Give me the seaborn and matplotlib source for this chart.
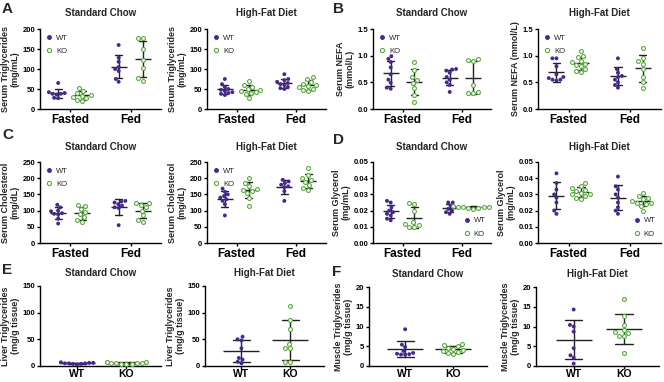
import numpy as np
import pandas as pd
import matplotlib
matplotlib.use("Agg")
import matplotlib.pyplot as plt
import seaborn as sns
from matplotlib.lines import Line2D
from matplotlib.colors import to_rgb

sns.set_theme(style="ticks")
plt.rcParams['font.family'] = ['Liberation Sans', 'DejaVu Sans']
plt.rcParams['font.weight'] = 'bold'
plt.rcParams['axes.titleweight'] = 'bold'
plt.rcParams['axes.labelweight'] = 'bold'
plt.rcParams['axes.edgecolor'] = 'black'
plt.rcParams['axes.linewidth'] = 1.0
plt.rcParams['xtick.color'] = 'black'
plt.rcParams['ytick.color'] = 'black'

WT_COL = "#45288f"
KO_COL = "#5aab3e"
BAR_COL = "#222222"
conds = ["Fasted", "Fed"]
genos = ["WT", "KO"]

# A - serum triglycerides (mg/mL)
a_chow_wt_fasted = [65, 42, 38, 36, 40, 27, 28, 38]
a_chow_ko_fasted = [52, 45, 40, 33, 30, 28, 22, 20, 35]
a_chow_wt_fed = [160, 128, 118, 105, 100, 95, 75, 68]
a_chow_ko_fed = [177, 177, 150, 123, 102, 77, 71]
a_hfd_wt_fasted = [75, 62, 55, 50, 48, 45, 42, 40, 38, 35]
a_hfd_ko_fasted = [70, 60, 55, 50, 48, 45, 42, 40, 38, 28]
a_hfd_wt_fed = [87, 75, 72, 68, 65, 62, 60, 55, 52, 50]
a_hfd_ko_fed = [80, 75, 68, 62, 60, 58, 55, 50, 48, 45]

# B - serum NEFA (mmol/L)
b_chow_wt_fasted = [0.99, 0.94, 0.88, 0.78, 0.65, 0.55, 0.49, 0.38, 0.40]
b_chow_ko_fasted = [0.88, 0.74, 0.60, 0.55, 0.49, 0.40, 0.27, 0.14]
b_chow_wt_fed = [0.75, 0.74, 0.72, 0.68, 0.60, 0.55, 0.50, 0.45, 0.32]
b_chow_ko_fed = [0.93, 0.92, 0.90, 0.45, 0.32, 0.30, 0.30]
b_hfd_wt_fasted = [0.95, 0.95, 0.80, 0.65, 0.60, 0.58, 0.55, 0.55, 0.53]
b_hfd_ko_fasted = [1.08, 1.00, 0.98, 0.90, 0.88, 0.85, 0.82, 0.80, 0.75, 0.70, 0.72]
b_hfd_wt_fed = [0.95, 0.75, 0.68, 0.62, 0.60, 0.55, 0.50, 0.45, 0.40]
b_hfd_ko_fed = [1.15, 0.95, 0.90, 0.85, 0.75, 0.60, 0.50, 0.40]

# C - serum cholesterol (mg/dL)
c_chow_wt_fasted = [118, 110, 100, 98, 92, 90, 88, 75, 60]
c_chow_ko_fasted = [118, 115, 105, 95, 90, 80, 70, 65]
c_chow_wt_fed = [130, 128, 125, 120, 115, 110, 108, 55]
c_chow_ko_fed = [125, 122, 118, 110, 100, 85, 70, 65]
c_hfd_wt_fasted = [168, 158, 150, 145, 140, 135, 130, 120, 85]
c_hfd_ko_fasted = [200, 185, 175, 168, 165, 160, 155, 140, 115]
c_hfd_wt_fed = [195, 190, 185, 180, 175, 172, 160, 130]
c_hfd_ko_fed = [232, 210, 200, 195, 188, 180, 170, 165]

# D - serum glycerol (mg/mL)
d_chow_wt_fasted = [0.026, 0.025, 0.022, 0.020, 0.019, 0.018, 0.017, 0.015, 0.014]
d_chow_ko_fasted = [0.025, 0.024, 0.020, 0.013, 0.012, 0.011, 0.010, 0.010]
d_chow_wt_fed = [0.025, 0.025, 0.023, 0.022, 0.021, 0.020, 0.019, 0.018]
d_chow_ko_fed = [0.023, 0.0225, 0.022, 0.022, 0.022, 0.0215, 0.021, 0.0215]
d_hfd_wt_fasted = [0.043, 0.037, 0.033, 0.030, 0.028, 0.025, 0.020, 0.018]
d_hfd_ko_fasted = [0.037, 0.035, 0.034, 0.033, 0.032, 0.031, 0.030, 0.030, 0.029, 0.028, 0.027]
d_hfd_wt_fed = [0.041, 0.035, 0.033, 0.030, 0.028, 0.022, 0.020, 0.018, 0.025]
d_hfd_ko_fed = [0.031, 0.029, 0.028, 0.027, 0.026, 0.025, 0.025, 0.024, 0.023, 0.020]

# E - liver triglycerides (mg/g tissue)
e_chow_wt = [7, 6, 5, 5, 4, 4, 3, 5, 6]
e_chow_ko = [8, 7, 6, 5, 4, 4, 3, 5, 6, 7]
e_hfd_wt = [55, 50, 48, 33, 15, 12, 8, 5]
e_hfd_ko = [113, 87, 70, 42, 34, 33, 8, 8]

# F - muscle triglycerides (mg/g tissue)
f_chow_wt = [9.3, 5.4, 4.8, 3.8, 3.3, 3.0, 2.9, 2.9, 3.1]
f_chow_ko = [5.5, 5.2, 5.0, 4.6, 4.3, 4.0, 3.8, 3.5, 3.0, 3.2]
f_hfd_wt = [14.3, 10.4, 10.0, 8.7, 4.5, 2.7, 2.1, 0.6]
f_hfd_ko = [16.9, 12.7, 10.3, 9.0, 8.6, 8.3, 7.7, 7.5, 3.3]

pal = {"WT": WT_COL, "KO": KO_COL}
bar_pal = {"WT": BAR_COL, "KO": BAR_COL}

fig = plt.figure(figsize=(6.64, 3.82), dpi=100)


def make_ax(x, top, w, bottom):
    return fig.add_axes([x / 664, 1 - bottom / 382, w / 664, (bottom - top) / 382])


def open_ko(ax):
    for coll in ax.collections:
        fc = coll.get_facecolor()
        if len(fc) and np.allclose(fc[0][:3], to_rgb(KO_COL), atol=0.03):
            coll.set_facecolor("white")
            coll.set_edgecolor(KO_COL)
            coll.set_linewidth(0.8)


def style(ax, title, ylabel, yticks, fmt, title_pad, xsize=8.5, xpad=1.5):
    ax.set_ylim(yticks[0], yticks[-1])
    ax.set_yticks(yticks)
    ax.set_yticklabels([fmt.format(t) for t in yticks])
    ax.set_xlabel("")
    ax.set_ylabel(ylabel, fontsize=6.5, labelpad=2, linespacing=1.1)
    ax.set_title(title, fontsize=7, pad=title_pad)
    ax.tick_params(axis="y", labelsize=5.5, length=2.5, width=1, pad=1)
    ax.tick_params(axis="x", labelsize=xsize, length=2, width=1, pad=xpad)
    sns.despine(ax=ax)


def add_legend(ax, loc):
    handles = [
        Line2D([], [], marker="o", ls="none", mfc=WT_COL, mec=WT_COL, ms=2.5),
        Line2D([], [], marker="o", ls="none", mfc="white", mec=KO_COL, ms=3, mew=0.8),
    ]
    ax.legend(handles, genos, loc=loc, frameon=False, prop={"size": 5.5, "weight": "normal"},
              handletextpad=0.4, labelspacing=0.8, borderaxespad=0.3, handlelength=1)


def fasting_panel(ax, groups, title, ylabel, yticks, fmt, legend_loc):
    rows = []
    for (cond, geno), vals in groups.items():
        rows += [{"cond": cond, "geno": geno, "val": v} for v in vals]
    df = pd.DataFrame(rows)
    sns.swarmplot(data=df, x="cond", y="val", hue="geno", order=conds, hue_order=genos,
                  dodge=True, palette=pal, size=2.8, ax=ax, legend=False)
    open_ko(ax)
    sns.pointplot(data=df, x="cond", y="val", hue="geno", order=conds, hue_order=genos,
                  dodge=0.4, errorbar="sd", markers="_", linestyle="none", capsize=0.12,
                  palette=bar_pal, markersize=11, markeredgewidth=1,
                  err_kws={"linewidth": 1}, legend=False, ax=ax)
    ax.set_xlim(-0.5, 1.5)
    style(ax, title, ylabel, yticks, fmt, 9)
    add_legend(ax, legend_loc)


def tissue_panel(ax, groups, title, ylabel, yticks, fmt):
    rows = []
    for geno, vals in groups.items():
        rows += [{"geno": geno, "val": v} for v in vals]
    df = pd.DataFrame(rows)
    sns.swarmplot(data=df, x="geno", y="val", hue="geno", order=genos, hue_order=genos,
                  palette=pal, size=2.8, ax=ax, legend=False)
    open_ko(ax)
    sns.pointplot(data=df, x="geno", y="val", order=genos, errorbar="sd", markers="_",
                  linestyle="none", capsize=0.35, color=BAR_COL, markersize=26,
                  markeredgewidth=1, err_kws={"linewidth": 1}, ax=ax)
    ax.set_xlim(-0.75, 1.7)
    style(ax, title, ylabel, yticks, fmt, 7, xsize=7.5, xpad=0.5)


tg_ticks = [0, 50, 100, 150, 200]
nefa_ticks = [0.0, 0.5, 1.0, 1.5]
chol_ticks = [0, 50, 100, 150, 200, 250]
gly_ticks = [0.0, 0.01, 0.02, 0.03, 0.04, 0.05]

fasting_panel(make_ax(40, 29, 121, 109),
              {("Fasted", "WT"): a_chow_wt_fasted, ("Fasted", "KO"): a_chow_ko_fasted,
               ("Fed", "WT"): a_chow_wt_fed, ("Fed", "KO"): a_chow_ko_fed},
              "Standard Chow", "Serum Triglycerides\n(mg/mL)", tg_ticks, "{:.0f}", "upper left")
fasting_panel(make_ax(207, 29, 119, 109),
              {("Fasted", "WT"): a_hfd_wt_fasted, ("Fasted", "KO"): a_hfd_ko_fasted,
               ("Fed", "WT"): a_hfd_wt_fed, ("Fed", "KO"): a_hfd_ko_fed},
              "High-Fat Diet", "Serum Triglycerides\n(mg/mL)", tg_ticks, "{:.0f}", "upper left")
fasting_panel(make_ax(373, 29, 118, 109),
              {("Fasted", "WT"): b_chow_wt_fasted, ("Fasted", "KO"): b_chow_ko_fasted,
               ("Fed", "WT"): b_chow_wt_fed, ("Fed", "KO"): b_chow_ko_fed},
              "Standard Chow", "Serum NEFA\n(mmol/L)", nefa_ticks, "{:.1f}", "upper left")
fasting_panel(make_ax(538, 29, 123, 109),
              {("Fasted", "WT"): b_hfd_wt_fasted, ("Fasted", "KO"): b_hfd_ko_fasted,
               ("Fed", "WT"): b_hfd_wt_fed, ("Fed", "KO"): b_hfd_ko_fed},
              "High-Fat Diet", "Serum NEFA (mmol/L)", nefa_ticks, "{:.1f}", "upper left")

fasting_panel(make_ax(40, 162, 121, 243),
              {("Fasted", "WT"): c_chow_wt_fasted, ("Fasted", "KO"): c_chow_ko_fasted,
               ("Fed", "WT"): c_chow_wt_fed, ("Fed", "KO"): c_chow_ko_fed},
              "Standard Chow", "Serum Cholesterol\n(mg/dL)", chol_ticks, "{:.0f}", "upper left")
fasting_panel(make_ax(207, 162, 119, 243),
              {("Fasted", "WT"): c_hfd_wt_fasted, ("Fasted", "KO"): c_hfd_ko_fasted,
               ("Fed", "WT"): c_hfd_wt_fed, ("Fed", "KO"): c_hfd_ko_fed},
              "High-Fat Diet", "Serum Cholesterol\n(mg/dL)", chol_ticks, "{:.0f}", "upper left")
fasting_panel(make_ax(373, 162, 118, 243),
              {("Fasted", "WT"): d_chow_wt_fasted, ("Fasted", "KO"): d_chow_ko_fasted,
               ("Fed", "WT"): d_chow_wt_fed, ("Fed", "KO"): d_chow_ko_fed},
              "Standard Chow", "Serum Glycerol\n(mg/mL)", gly_ticks, "{:.2f}", "lower right")
fasting_panel(make_ax(538, 162, 123, 243),
              {("Fasted", "WT"): d_hfd_wt_fasted, ("Fasted", "KO"): d_hfd_ko_fasted,
               ("Fed", "WT"): d_hfd_wt_fed, ("Fed", "KO"): d_hfd_ko_fed},
              "High-Fat Diet", "Serum Glycerol\n(mg/mL)", gly_ticks, "{:.2f}", "lower right")

tissue_panel(make_ax(40, 286, 121, 366), {"WT": e_chow_wt, "KO": e_chow_ko},
             "Standard Chow", "Liver Triglycerides\n(mg/g tissue)", [0, 50, 100, 150], "{:.0f}")
tissue_panel(make_ax(205, 286, 119, 366), {"WT": e_hfd_wt, "KO": e_hfd_ko},
             "High-Fat Diet", "Liver Triglycerides\n(mg/g tissue)", [0, 50, 100, 150], "{:.0f}")
tissue_panel(make_ax(369, 287, 118, 366), {"WT": f_chow_wt, "KO": f_chow_ko},
             "Standard Chow", "Muscle Triglycerides\n(mg/g tissue)", [0, 5, 10, 15, 20], "{:.0f}")
tissue_panel(make_ax(536, 287, 123, 366), {"WT": f_hfd_wt, "KO": f_hfd_ko},
             "High-Fat Diet", "Muscle Triglycerides\n(mg/g tissue)", [0, 5, 10, 15, 20], "{:.0f}")

for letter, x, y in [("A", 2, 2), ("B", 333, 2), ("C", 2, 128), ("D", 333, 133),
                     ("E", 2, 263), ("F", 332, 265)]:
    fig.text(x / 664, 1 - y / 382, letter, fontsize=11, fontweight="bold", va="top", ha="left")

fig.savefig("out.png", dpi=100)
